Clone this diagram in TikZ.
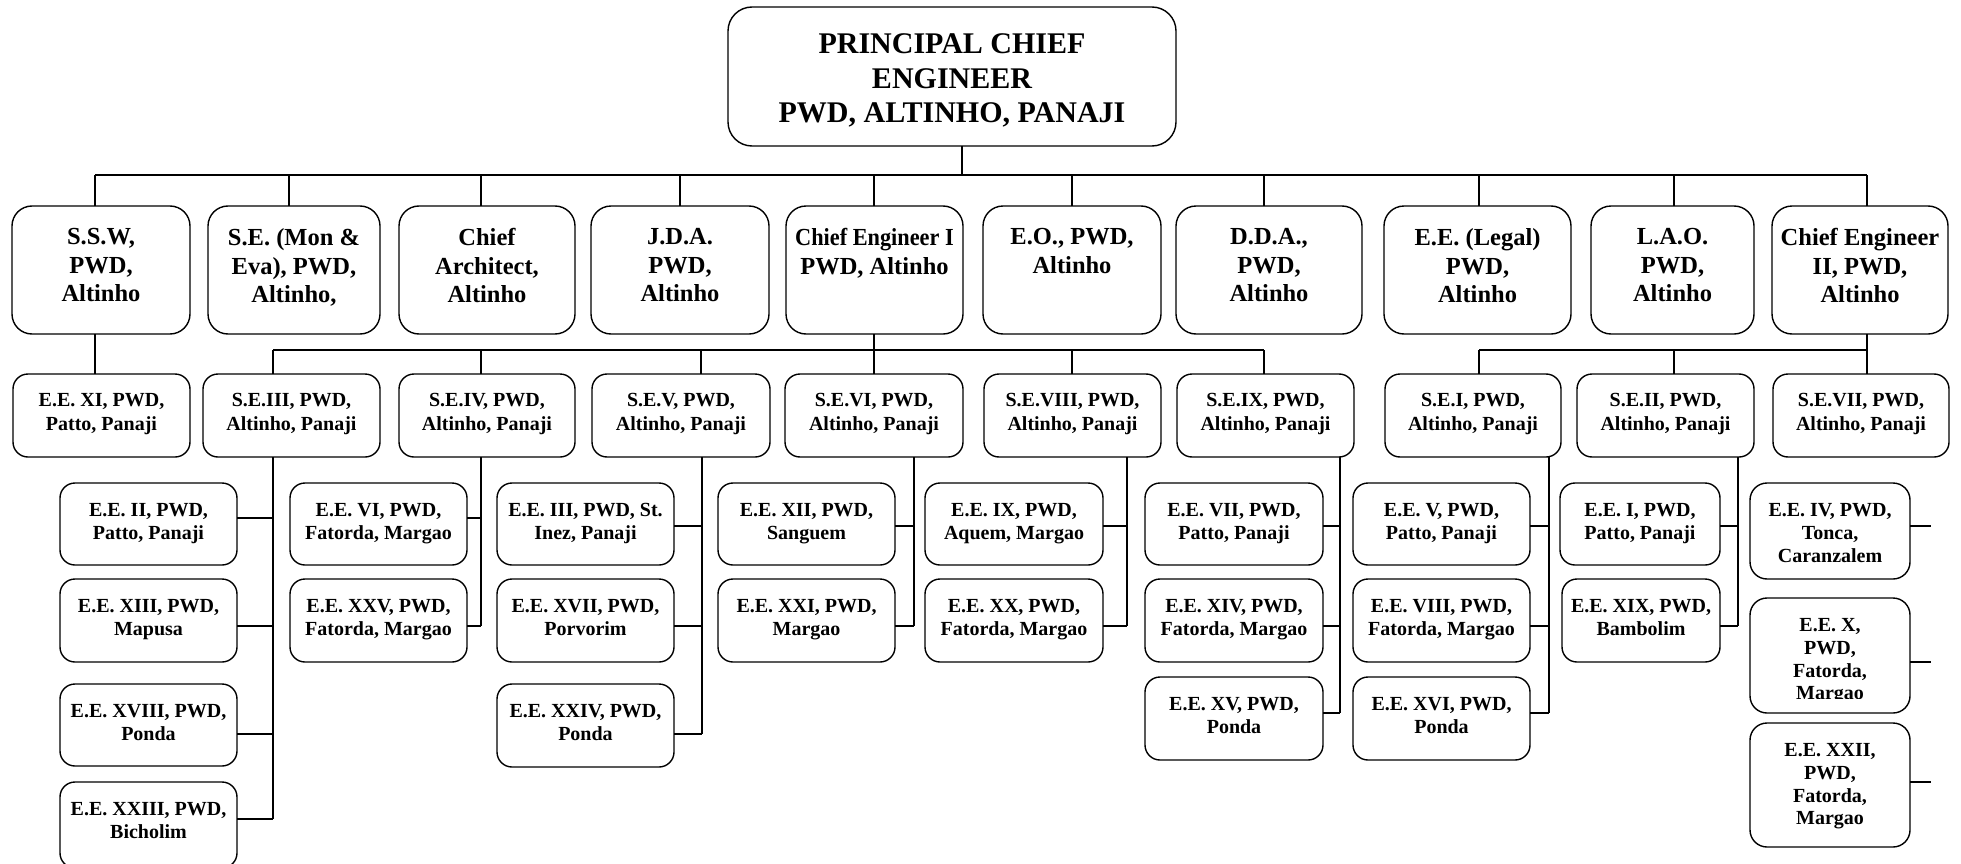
\documentclass[tikz,border=0pt]{standalone}
\usepackage{fontspec}
\setmainfont{Liberation Serif}
\newcommand\orgbox[7]{%
  \node[#6, minimum width={(#4-#2)*1pt}, minimum height={(#5-#3)*1pt}] (#1) at ({(#2+#4)/2},{(#3+#5)/2}) {};
  \node[#6t] (#1t) at (#1.north) {#7};}
\newcommand\hook[3]{\coordinate (#1c) at (#2,#3); \draw (#1.east |- #1c) -- (#1c);}
\newcommand\vdrop[3]{\coordinate (#1d) at (#2,#3); \draw (#1d) -- (#1.north -| #1d);}
\begin{document}
\begin{tikzpicture}[x=1pt,y=-1pt,line width=1.4pt,
  boxbase/.style={draw,inner sep=0pt,outer sep=0pt},
  lvT/.style={boxbase,rounded corners=24pt},
  lvTt/.style={anchor=north,yshift=-26pt,align=center,inner sep=0pt,font=\bfseries\fontsize{30}{34.5}\selectfont},
  lvB/.style={boxbase,rounded corners=20pt},
  lvBt/.style={anchor=north,yshift=-22pt,align=center,inner sep=0pt,font=\bfseries\fontsize{24.5}{28.5}\selectfont},
  lvC/.style={boxbase,rounded corners=15pt},
  lvCt/.style={anchor=north,yshift=-19pt,align=center,inner sep=0pt,font=\bfseries\fontsize{20}{23.5}\selectfont},
  lvD/.style={boxbase,rounded corners=15pt},
  lvDt/.style={anchor=north,yshift=-20pt,align=center,inner sep=0pt,font=\bfseries\fontsize{20}{22.5}\selectfont},
  lvE/.style={boxbase,rounded corners=17pt},
  lvEt/.style={anchor=north,yshift=-20pt,align=center,inner sep=0pt,font=\bfseries\fontsize{20}{22.7}\selectfont}]
\useasboundingbox (0,0) rectangle (1961,864);

% ---------- top ----------
\orgbox{top}{728}{7}{1176}{146}{lvT}{PRINCIPAL CHIEF\\ENGINEER\\PWD, ALTINHO, PANAJI}

% ---------- level 2 ----------
\orgbox{b1}{12}{206}{190}{334}{lvB}{S.S.W,\\PWD,\\Altinho}
\orgbox{b2}{208}{206}{380}{334}{lvB}{S.E. (Mon \&\\Eva), PWD,\\Altinho,}
\orgbox{b3}{399}{206}{575}{334}{lvB}{Chief\\Architect,\\Altinho}
\orgbox{b4}{591}{206}{769}{334}{lvB}{J.D.A.\\PWD,\\Altinho}
\orgbox{b5}{786}{206}{963}{334}{lvB}{\scalebox{0.91}[1]{Chief Engineer I}\\PWD, Altinho}
\orgbox{b6}{983}{206}{1161}{334}{lvB}{E.O., PWD,\\Altinho}
\orgbox{b7}{1176}{206}{1362}{334}{lvB}{D.D.A.,\\PWD,\\Altinho}
\orgbox{b8}{1384}{206}{1571}{334}{lvB}{E.E. (Legal)\\PWD,\\Altinho}
\orgbox{b9}{1591}{206}{1754}{334}{lvB}{L.A.O.\\PWD,\\Altinho}
\orgbox{b10}{1772}{206}{1948}{334}{lvB}{Chief Engineer\\II, PWD,\\Altinho}

% ---------- level 3 ----------
\orgbox{e11}{13}{374}{190}{457}{lvC}{E.E. XI, PWD,\\Patto, Panaji}
\orgbox{s3}{203}{374}{380}{457}{lvC}{S.E.III, PWD,\\Altinho, Panaji}
\orgbox{s4}{399}{374}{575}{457}{lvC}{S.E.IV, PWD,\\Altinho, Panaji}
\orgbox{s5}{592}{374}{770}{457}{lvC}{S.E.V, PWD,\\Altinho, Panaji}
\orgbox{s6}{785}{374}{963}{457}{lvC}{S.E.VI, PWD,\\Altinho, Panaji}
\orgbox{s8}{984}{374}{1161}{457}{lvC}{S.E.VIII, PWD,\\Altinho, Panaji}
\orgbox{s9}{1177}{374}{1354}{457}{lvC}{S.E.IX, PWD,\\Altinho, Panaji}
\orgbox{s1}{1385}{374}{1561}{457}{lvC}{S.E.I, PWD,\\Altinho, Panaji}
\orgbox{s2}{1577}{374}{1754}{457}{lvC}{S.E.II, PWD,\\Altinho, Panaji}
\orgbox{s7}{1773}{374}{1949}{457}{lvC}{S.E.VII, PWD,\\Altinho, Panaji}

% ---------- level 4 ----------
\orgbox{e2}{60}{483}{237}{565}{lvD}{E.E. II, PWD,\\Patto, Panaji}
\orgbox{e13}{60}{579}{237}{662}{lvD}{E.E. XIII, PWD,\\Mapusa}
\orgbox{e18}{60}{684}{237}{766}{lvD}{E.E. XVIII, PWD,\\Ponda}
\orgbox{e23}{60}{782}{237}{868}{lvD}{E.E. XXIII, PWD,\\Bicholim}
\orgbox{e6}{290}{483}{467}{565}{lvD}{E.E. VI, PWD,\\Fatorda, Margao}
\orgbox{e25}{290}{579}{467}{662}{lvD}{E.E. XXV, PWD,\\Fatorda, Margao}
\orgbox{e3}{497}{483}{674}{565}{lvD}{E.E. III, PWD, St.\\Inez, Panaji}
\orgbox{e17}{497}{579}{674}{662}{lvD}{E.E. XVII, PWD,\\Porvorim}
\orgbox{e24}{497}{684}{674}{767}{lvD}{E.E. XXIV, PWD,\\Ponda}
\orgbox{e12}{718}{483}{895}{565}{lvD}{E.E. XII, PWD,\\Sanguem}
\orgbox{e21}{718}{579}{895}{662}{lvD}{E.E. XXI, PWD,\\Margao}
\orgbox{e9}{925}{483}{1103}{565}{lvD}{E.E. IX, PWD,\\Aquem, Margao}
\orgbox{e20}{925}{579}{1103}{662}{lvD}{E.E. XX, PWD,\\Fatorda, Margao}
\orgbox{e7}{1145}{483}{1323}{565}{lvD}{E.E. VII, PWD,\\Patto, Panaji}
\orgbox{e14}{1145}{579}{1323}{662}{lvD}{E.E. XIV, PWD,\\Fatorda, Margao}
\orgbox{e15}{1145}{677}{1323}{760}{lvD}{E.E. XV, PWD,\\Ponda}
\orgbox{e5}{1353}{483}{1530}{565}{lvD}{E.E. V, PWD,\\Patto, Panaji}
\orgbox{e8}{1353}{579}{1530}{662}{lvD}{E.E. VIII, PWD,\\Fatorda, Margao}
\orgbox{e16}{1353}{677}{1530}{760}{lvD}{E.E. XVI, PWD,\\Ponda}
\orgbox{e1}{1560}{483}{1720}{565}{lvD}{E.E. I, PWD,\\Patto, Panaji}
\orgbox{e19}{1562}{579}{1720}{662}{lvD}{E.E. XIX, PWD,\\Bambolim}
\orgbox{e4}{1750}{483}{1910}{579}{lvE}{E.E. IV, PWD,\\Tonca,\\Caranzalem}
\node[lvE, minimum width=160pt, minimum height=115pt] (e10) at (1830,655.5) {};
\begin{scope}
  \clip (1750,598) rectangle (1910,698);
  \node[lvEt] (e10t) at (e10.north) {E.E. X,\\PWD,\\Fatorda,\\Margao};
\end{scope}
\orgbox{e22}{1750}{723}{1910}{847}{lvE}{E.E. XXII,\\PWD,\\Fatorda,\\Margao}

% ---------- connectors: top -> level 2 ----------
\coordinate (td) at (962,175);
\draw (top.south -| td) -- (td);
\vdrop{b1}{95}{175}
\vdrop{b2}{289}{175}
\vdrop{b3}{481}{175}
\vdrop{b4}{680}{175}
\vdrop{b5}{874}{175}
\vdrop{b6}{1072}{175}
\vdrop{b7}{1264}{175}
\vdrop{b8}{1479}{175}
\vdrop{b9}{1674}{175}
\vdrop{b10}{1867}{175}
\draw (b1d) -- (b10d);

% ---------- level 2 -> level 3 ----------
\draw (b1.south -| b1d) -- (e11.north -| b1d);
\vdrop{s3}{273}{350}
\vdrop{s4}{481}{350}
\vdrop{s5}{701}{350}
\vdrop{s6}{874}{350}
\vdrop{s8}{1072}{350}
\vdrop{s9}{1264}{350}
\draw (b5.south -| s6d) -- (s6d);
\draw (s3d) -- (s9d);
\vdrop{s1}{1479}{350}
\vdrop{s2}{1674}{350}
\vdrop{s7}{1867}{350}
\draw (b10.south -| s7d) -- (s7d);
\draw (s1d) -- (s7d);

% ---------- level 3 -> level 4 ----------
\hook{e2}{273}{518}\hook{e13}{273}{626}\hook{e18}{273}{734}\hook{e23}{273}{819}
\draw (s3.south -| e2c) -- (e23c);
\hook{e6}{481}{518}\hook{e25}{481}{626}
\draw (s4.south -| e6c) -- (e25c);
\hook{e3}{702}{526}\hook{e17}{702}{626}\hook{e24}{702}{734}
\draw (s5.south -| e3c) -- (e24c);
\hook{e12}{914}{526}\hook{e21}{914}{626}
\draw (s6.south -| e12c) -- (e21c);
\hook{e9}{1127}{526}\hook{e20}{1127}{626}
\draw (s8.south -| e9c) -- (e20c);
\hook{e7}{1340}{526}\hook{e14}{1340}{626}\hook{e15}{1340}{713}
\draw (s9.south -| e7c) -- (e15c);
\hook{e5}{1549}{526}\hook{e8}{1549}{626}\hook{e16}{1549}{713}
\draw (s1.south -| e5c) -- (e16c);
\hook{e1}{1738}{526}\hook{e19}{1738}{626}
\draw (s2.south -| e1c) -- (e19c);
\hook{e4}{1931}{526}\hook{e10}{1931}{662}\hook{e22}{1931}{782}
\end{tikzpicture}
\end{document}
